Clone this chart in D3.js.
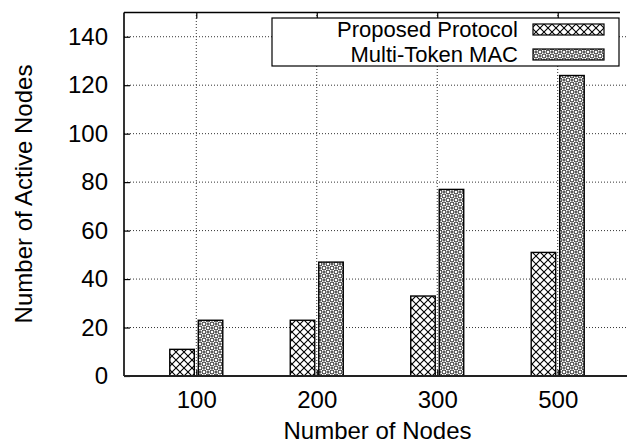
<!DOCTYPE html>
<html>
<head>
<meta charset="utf-8">
<script src="https://cdn.jsdelivr.net/npm/d3@7"></script>
<style>
    body { margin: 0; background: #fff; }
    svg { display: block; font-family: "Liberation Sans", Arial, Helvetica, sans-serif; }
</style>
</head>
<body>
<div id="chart"></div>
<script>
const categories = ['100', '200', '300', '500'];
const seriesNames = ['Proposed Protocol', 'Multi-Token MAC'];
const proposed = [11, 23, 33, 51];
const multiToken = [23, 47, 77, 124];
const yTicks = [0, 20, 40, 60, 80, 100, 120, 140];

const width = 627;
const height = 445;
const margin = { top: 12.5, bottom: 69, left: 124, right: -3 };
const fontSize = 24;

const svg = d3.select('#chart').append('svg').attr('width', width).attr('height', height);

// fill patterns, one per series
const defs = svg.append('defs');
const hatch = defs.append('pattern')
    .attr('id', 'pat0').attr('patternUnits', 'userSpaceOnUse')
    .attr('width', 8).attr('height', 8);
hatch.append('rect').attr('width', 8).attr('height', 8).attr('fill', '#fff');
hatch.append('path').attr('d', 'M0,0L8,8M8,0L0,8').attr('stroke', '#000').attr('stroke-width', 1.1);

const dots = defs.append('pattern')
    .attr('id', 'pat1').attr('patternUnits', 'userSpaceOnUse')
    .attr('width', 8).attr('height', 8);
dots.append('rect').attr('width', 8).attr('height', 8).attr('fill', '#fff');
for (const [cx, cy] of [[0, 0], [8, 0], [0, 8], [8, 8], [4, 4]]) {
    dots.append('circle').attr('cx', cx).attr('cy', cy).attr('r', 2)
        .attr('fill', 'none').attr('stroke', '#000').attr('stroke-width', 0.9);
}
for (const [cx, cy] of [[4, 0], [0, 4], [8, 4], [4, 8]]) {
    dots.append('rect').attr('x', cx - 0.8).attr('y', cy - 0.8).attr('width', 1.6).attr('height', 1.6).attr('fill', '#000');
}

const x = d3.scalePoint().domain(categories).range([margin.left, width - margin.right]).padding(0.6);
const y = d3.scaleLinear().domain([0, 150]).range([height - margin.bottom, margin.top]);

const x0 = margin.left;
const x1 = width - margin.right;
const yBottom = y(0);
const yTop = y(150);

// dotted grid
const grid = svg.append('g').attr('stroke', '#333').attr('stroke-width', 1).attr('stroke-dasharray', '1,2');
grid.selectAll('.hg').data(yTicks.slice(1)).enter().append('line')
    .attr('x1', x0).attr('x2', x1).attr('y1', (d) => y(d)).attr('y2', (d) => y(d));
grid.selectAll('.vg').data(categories).enter().append('line')
    .attr('x1', (d) => x(d)).attr('x2', (d) => x(d)).attr('y1', yBottom).attr('y2', yTop);

// bars
const barW = 24.5;
const gap = 2;
const series = [proposed, multiToken];
series.forEach((values, i) => {
    svg.append('g').selectAll('rect').data(values).enter().append('rect')
        .attr('x', (d, j) => (i === 0 ? x(categories[j]) - gap - barW : x(categories[j]) + gap))
        .attr('y', (d) => y(d))
        .attr('width', barW)
        .attr('height', (d) => yBottom - y(d))
        .attr('fill', `url(#pat${i})`)
        .attr('stroke', '#000')
        .attr('stroke-width', 1.4);
});

// axes with inward ticks
const yAxis = svg.append('g').attr('transform', `translate(${x0},0)`)
    .call(d3.axisLeft(y).tickValues(yTicks).tickSizeInner(-6).tickSizeOuter(0).tickPadding(16));
const xAxis = svg.append('g').attr('transform', `translate(0,${yBottom})`)
    .call(d3.axisBottom(x).tickSizeInner(-6).tickSizeOuter(0).tickPadding(15));
const xTop = svg.append('g').attr('transform', `translate(0,${yTop})`)
    .call(d3.axisTop(x).tickSizeInner(-6).tickSizeOuter(0).tickFormat(''));

for (const a of [yAxis, xAxis, xTop]) {
    a.select('.domain').remove();
    a.selectAll('line').attr('stroke', '#000').attr('stroke-width', 1.2);
    a.selectAll('text').attr('font-size', fontSize).attr('fill', '#000')
        .style('font-family', '"Liberation Sans", Arial, Helvetica, sans-serif');
}

// frame
svg.append('line').attr('x1', x0).attr('x2', x0).attr('y1', yTop).attr('y2', yBottom)
    .attr('stroke', '#000').attr('stroke-width', 1.6);
svg.append('line').attr('x1', x0).attr('x2', 620).attr('y1', yTop).attr('y2', yTop)
    .attr('stroke', '#000').attr('stroke-width', 1.4);
svg.append('line').attr('x1', x0).attr('x2', width).attr('y1', yBottom).attr('y2', yBottom)
    .attr('stroke', '#222').attr('stroke-width', 2);

// legend
const legend = svg.append('g');
legend.append('rect').attr('x', 272).attr('y', 18).attr('width', 347).attr('height', 48)
    .attr('fill', '#fff').attr('stroke', '#000').attr('stroke-width', 1.2);
seriesNames.forEach((name, i) => {
    const cy = 29.5 + i * 25;
    legend.append('text').attr('x', 518).attr('y', cy).attr('dy', '0.35em')
        .attr('text-anchor', 'end').attr('font-size', 22).text(name);
    legend.append('rect').attr('x', 533).attr('y', cy - 5.5).attr('width', 71).attr('height', 11)
        .attr('fill', `url(#pat${i})`).attr('stroke', '#000').attr('stroke-width', 1.2);
});

// axis titles
svg.append('text').attr('x', (x0 + 627) / 2 + 2).attr('y', 439).attr('text-anchor', 'middle')
    .attr('font-size', fontSize).text('Number of Nodes');
svg.append('text').attr('transform', 'translate(32,194) rotate(-90)').attr('text-anchor', 'middle')
    .attr('font-size', fontSize).text('Number of Active Nodes');
</script>
</body>
</html>
